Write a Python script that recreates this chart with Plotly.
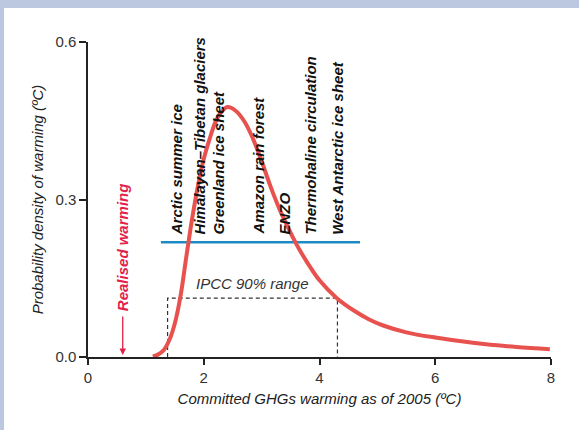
import plotly.graph_objects as go

# Probability density of committed warming (ºC)
warming = [1.12, 1.20, 1.30, 1.40, 1.50, 1.60, 1.70, 1.80, 1.90, 2.00, 2.10, 2.20, 2.30,
           2.41, 2.55, 2.70, 2.85, 3.00, 3.15, 3.30, 3.45, 3.60, 3.80, 4.00, 4.30,
           4.60, 4.85, 5.10, 5.50, 6.00, 6.65, 7.40, 7.98]
density = [0.001, 0.004, 0.012, 0.031, 0.064, 0.117, 0.192, 0.264, 0.326, 0.377, 0.415, 0.447, 0.466,
           0.476, 0.469, 0.449, 0.416, 0.373, 0.326, 0.284, 0.248, 0.215, 0.178, 0.146, 0.112,
           0.088, 0.072, 0.060, 0.047, 0.037, 0.027, 0.019, 0.015]

# Tipping elements and their threshold positions
tipping_labels = ["Arctic summer ice", "Himalayan\u2013Tibetan glaciers", "Greenland ice sheet",
                  "Amazon rain forest", "ENZO", "Thermohaline circulation",
                  "West Antarctic ice sheet"]
tipping_x = [1.52, 1.92, 2.26, 2.95, 3.40, 3.85, 4.32]
tipping_band_x = [1.26, 4.70]
tipping_band_y = 0.2185

# IPCC 90% range
ipcc_range = [1.375, 4.31]
ipcc_height = 0.112

# Realised warming so far
realised = 0.6

x_ticks = [0, 2, 4, 6, 8]
y_ticks = [0.0, 0.3, 0.6]

FONT = "Liberation Sans, Arial, sans-serif"
RED_CURVE = "#E8524E"
RED_TEXT = "#E2204A"
BLUE = "#1F8BC4"
BAND = "#BCC7E0"

fig = go.Figure()

# IPCC range box (dashed)
fig.add_trace(go.Scatter(
    x=[ipcc_range[0], ipcc_range[0], ipcc_range[1], ipcc_range[1]],
    y=[0, ipcc_height, ipcc_height, 0],
    mode="lines", line=dict(color="#333333", width=1.2, dash="4px,3px"),
    hoverinfo="skip", showlegend=False))

# tipping-point band
fig.add_trace(go.Scatter(
    x=tipping_band_x, y=[tipping_band_y, tipping_band_y],
    mode="lines", line=dict(color=BLUE, width=2.5),
    hoverinfo="skip", showlegend=False))

# density curve
fig.add_trace(go.Scatter(
    x=warming, y=density, mode="lines",
    line=dict(color=RED_CURVE, width=4, shape="spline", smoothing=1.0),
    hoverinfo="skip", showlegend=False))

annotations = []
for lab, xv in zip(tipping_labels, tipping_x):
    annotations.append(dict(
        x=xv, y=0.229, xref="x", yref="y", text="<b><i>%s</i></b>" % lab,
        textangle=-90, showarrow=False, xanchor="center", yanchor="bottom",
        font=dict(family=FONT, size=15, color="#111111")))

annotations.append(dict(
    x=sum(ipcc_range) / 2, y=0.1396, xref="x", yref="y",
    text="<i>IPCC 90% range</i>", showarrow=False,
    font=dict(family=FONT, size=15, color="#333333")))

annotations.append(dict(
    x=realised, y=0.083, xref="x", yref="y",
    text="<b><i>Realised warming</i></b>", textangle=-90, showarrow=False,
    xanchor="center", yanchor="bottom",
    font=dict(family=FONT, size=15, color=RED_TEXT)))

annotations.append(dict(
    x=realised, y=0.004, xref="x", yref="y", ax=realised, ay=0.08,
    axref="x", ayref="y", text="", showarrow=True,
    arrowhead=2, arrowsize=1, arrowwidth=1.3, arrowcolor=RED_TEXT))

W, H = 579, 430
L, R, T, B = 88, 28, 42, 73
pw, ph = W - L - R, H - T - B

def px_x(p):
    return (p - L) / pw

def px_y(p):
    return (H - B - p) / ph

shapes = [
    dict(type="rect", xref="paper", yref="paper", x0=px_x(0), x1=px_x(W),
         y0=px_y(8), y1=px_y(0), fillcolor=BAND, line=dict(width=0), layer="below"),
    dict(type="rect", xref="paper", yref="paper", x0=px_x(0), x1=px_x(4),
         y0=px_y(H), y1=px_y(8), fillcolor=BAND, line=dict(width=0), layer="below"),
]

fig.update_layout(
    width=W, height=H, margin=dict(l=L, r=R, t=T, b=B),
    paper_bgcolor="white", plot_bgcolor="white",
    font=dict(family=FONT, size=15, color="#333333"),
    annotations=annotations, shapes=shapes, showlegend=False,
    xaxis=dict(range=[0, 8], tickvals=x_ticks, showgrid=False, zeroline=False,
               showline=True, linecolor="#222222", linewidth=1.5,
               ticks="outside", ticklen=6, tickwidth=1.5, tickcolor="#222222",
               tickfont=dict(size=15, color="#333333"),
               title=dict(text="<i>Committed GHGs warming as of 2005 (ºC)</i>",
                          font=dict(size=15, color="#222222"), standoff=9)),
    yaxis=dict(range=[0, 0.6], tickvals=y_ticks, tickformat=".1f", showgrid=False,
               zeroline=False, showline=True, linecolor="#222222", linewidth=1.5,
               ticks="outside", ticklen=7, tickwidth=1.5, tickcolor="#222222",
               tickfont=dict(size=15, color="#333333"),
               title=dict(text="<i>Probability density of warming (ºC)</i>",
                          font=dict(size=15, color="#222222"), standoff=8)),
)

fig.write_html("out.html")
